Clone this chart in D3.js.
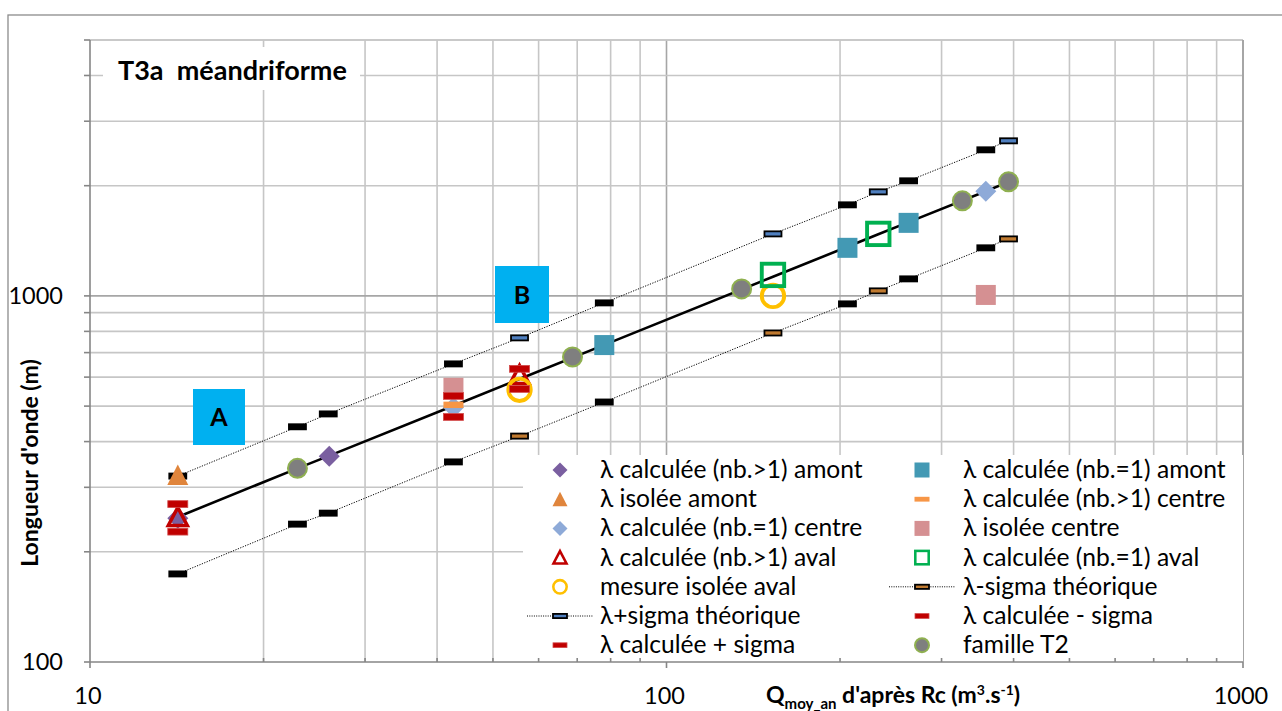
<!DOCTYPE html>
<html>
<head>
<meta charset="utf-8">
<script src="https://cdn.jsdelivr.net/npm/d3@7"></script>
<style>
  html, body { margin: 0; padding: 0; background: #fff; }
  svg { display: block; font-family: Lato, "Open Sans", sans-serif; }
</style>
</head>
<body>
<svg id="chart" width="1282" height="711"></svg>
<script>
// Discharge (m3/s) at which the theoretical curves are evaluated
const qTheo = [14.2, 22.9, 25.9, 42.7, 55.6, 78.0, 153, 206, 233, 263, 358, 392];
// Theoretical wavelength and its +/- sigma envelope (m)
const lambdaTheo       = [249, 338, 365, 501, 593, 735, 1128, 1362, 1473, 1590, 1932, 2049];
const lambdaPlusSigma  = [322, 439, 476, 652, 768, 957, 1477, 1773, 1924, 2062, 2506, 2652];
const lambdaMinusSigma = [174, 238, 255, 352, 414, 513, 792, 951, 1032, 1113, 1353, 1431];
// 't' = theoretical sigma marker, 'k' = plain marker
const sigmaKind = ['k', 'k', 'k', 'k', 't', 'k', 't', 'k', 't', 'k', 'k', 't'];

// Observed / computed wavelengths per reach
const amontMultiQ = [14.2, 26.0],           amontMultiL = [247, 365];
const amontIsoleeQ = [14.2],                amontIsoleeL = [324];
const centreSingleQ = [42.7, 358],          centreSingleL = [496, 1932];
const avalMultiQ = [14.2, 55.6],            avalMultiL = [249, 608];
const avalMesureQ = [55.6, 153],            avalMesureL = [554, 1000];
const amontSingleQ = [78.0, 206, 263],      amontSingleL = [734, 1353, 1583];
const centreMultiQ = [42.7],                centreMultiL = [504];
const centreIsoleeQ = [42.7, 358],          centreIsoleeL = [561, 1006];
const avalSingleQ = [153, 233],             avalSingleL = [1141, 1477];
const calcPlusQ = [14.2, 42.7, 55.6],       calcPlusL = [270, 533, 632];
const calcMinusQ = [14.2, 42.7, 55.6],      calcMinusL = [227, 467, 557];
const familleT2Q = [22.9, 68.7, 135, 326, 392], familleT2L = [338, 681, 1045, 1818, 2049];

// Axis tick labels
const xTickLabels = [10, 100, 1000];
const yTickLabels = [100, 1000];

// Legend entries (left column then right column)
const legendLeft = [
  "λ calculée (nb.>1) amont", "λ isolée amont", "λ calculée (nb.=1) centre",
  "λ calculée (nb.>1) aval", "mesure isolée aval", "λ+sigma théorique", "λ calculée + sigma"
];
const legendRight = [
  "λ calculée (nb.=1) amont", "λ calculée (nb.>1) centre", "λ isolée centre",
  "λ calculée (nb.=1) aval", "λ-sigma théorique", "λ calculée - sigma", "famille T2"
];

const svg = d3.select("#chart");
const P = { left: 90, right: 1243, top: 40, bottom: 662 };

const x = d3.scaleLog().domain([10, 1000]).range([P.left, P.right]);
const y = d3.scaleLog().domain([100, 5000]).range([P.bottom, P.top]);

// outer chart frame
svg.append("rect").attr("x", 8).attr("y", 15).attr("width", 1290).attr("height", 720)
  .attr("fill", "#fff").attr("stroke", "#8c8c8c").attr("stroke-width", 1.3);

// grid
const xGrid = [];
for (let d = 10; d < 1000; d *= 10) for (let k = 1; k <= 9; k++) xGrid.push(d * k);
xGrid.push(1000);
const yGrid = [];
for (let d = 100; d < 10000; d *= 10) for (let k = 1; k <= 9; k++) if (d * k <= 5000) yGrid.push(d * k);
const isMajor = v => Math.abs(Math.log10(v) - Math.round(Math.log10(v))) < 1e-9;

const grid = svg.append("g");
grid.selectAll("line.gx").data(xGrid.filter(v => v > 10 && v < 1000)).join("line")
  .attr("x1", d => x(d)).attr("x2", d => x(d)).attr("y1", P.top).attr("y2", P.bottom)
  .attr("stroke", d => isMajor(d) ? "#a6a6a6" : "#c6c6c6").attr("stroke-width", 1.6);
grid.selectAll("line.gy").data(yGrid.filter(v => v > 100)).join("line")
  .attr("y1", d => y(d)).attr("y2", d => y(d)).attr("x1", P.left).attr("x2", P.right)
  .attr("stroke", d => isMajor(d) ? "#a6a6a6" : "#c6c6c6").attr("stroke-width", 1.6);
// top and right plot edges
grid.append("line").attr("x1", P.left).attr("x2", P.right).attr("y1", P.top).attr("y2", P.top)
  .attr("stroke", "#c6c6c6").attr("stroke-width", 1.6);
grid.append("line").attr("x1", P.right).attr("x2", P.right).attr("y1", P.top).attr("y2", P.bottom)
  .attr("stroke", "#a6a6a6").attr("stroke-width", 2);

// title box
const tg = svg.append("g");
tg.append("rect").attr("x", 103).attr("y", 47).attr("width", 257).attr("height", 43).attr("fill", "#fff");
tg.append("text").attr("x", 118).attr("y", 80).attr("font-size", 27).attr("font-weight", 700)
  .attr("xml:space", "preserve").text("T3a  méandriforme");

// A / B labels
[["A", 193, 389, 52, 56], ["B", 495, 266, 54, 57]].forEach(([t, bx, by, bw, bh]) => {
  svg.append("rect").attr("x", bx).attr("y", by).attr("width", bw).attr("height", bh).attr("fill", "#00b0f0");
  svg.append("text").attr("x", bx + bw / 2).attr("y", by + bh / 2 + 9).attr("text-anchor", "middle")
    .attr("font-size", 25).attr("font-weight", 700).text(t);
});

// marker drawing helpers
function marker(g, type, cx, cy, s) {
  const h = s / 2;
  switch (type) {
    case "diamondPurple":
      return g.append("path").attr("d", `M${cx},${cy - h}L${cx + h},${cy}L${cx},${cy + h}L${cx - h},${cy}Z`).attr("fill", "#7a5fa0");
    case "diamondLight":
      return g.append("path").attr("d", `M${cx},${cy - h}L${cx + h},${cy}L${cx},${cy + h}L${cx - h},${cy}Z`).attr("fill", "#8eaad8");
    case "triOrange":
      return g.append("path").attr("d", `M${cx},${cy - h}L${cx + h},${cy + h * 0.95}L${cx - h},${cy + h * 0.95}Z`).attr("fill", "#e0853c");
    case "triRed": {
      const hh = h - 1.5;
      return g.append("path").attr("d", `M${cx},${cy - hh}L${cx + hh},${cy + hh * 0.9}L${cx - hh},${cy + hh * 0.9}Z`)
        .attr("fill", "none").attr("stroke", "#c00000").attr("stroke-width", s * 0.16).attr("stroke-linejoin", "miter");
    }
    case "circleYellow":
      return g.append("circle").attr("cx", cx).attr("cy", cy).attr("r", h - 1.8).attr("fill", "none")
        .attr("stroke", "#ffc000").attr("stroke-width", s * 0.15);
    case "squareTeal":
      return g.append("rect").attr("x", cx - h).attr("y", cy - h).attr("width", s).attr("height", s).attr("fill", "#4399b4");
    case "dashOrange":
      return g.append("rect").attr("x", cx - h).attr("y", cy - s * 0.16).attr("width", s).attr("height", s * 0.32).attr("fill", "#f79646");
    case "squarePink":
      return g.append("rect").attr("x", cx - h).attr("y", cy - h).attr("width", s).attr("height", s).attr("fill", "#d59092");
    case "squareGreen":
      return g.append("rect").attr("x", cx - h + 1.8).attr("y", cy - h + 1.8).attr("width", s - 3.6).attr("height", s - 3.6)
        .attr("fill", "none").attr("stroke", "#00b050").attr("stroke-width", s * 0.15);
    case "dashRed":
      return g.append("rect").attr("x", cx - h).attr("y", cy - s * 0.17).attr("width", s).attr("height", s * 0.34)
        .attr("fill", "#c00000").attr("stroke", "#d24a4a").attr("stroke-width", 0.8);
    case "circleGray":
      return g.append("circle").attr("cx", cx).attr("cy", cy).attr("r", h - 1).attr("fill", "#7f7f7f")
        .attr("stroke", "#8fb050").attr("stroke-width", 2);
    case "dashBlue":
      return g.append("rect").attr("x", cx - h).attr("y", cy - s * 0.15).attr("width", s).attr("height", s * 0.3)
        .attr("fill", "#4f7fbf").attr("stroke", "#000").attr("stroke-width", 1.8);
    case "dashBrown":
      return g.append("rect").attr("x", cx - h).attr("y", cy - s * 0.15).attr("width", s).attr("height", s * 0.3)
        .attr("fill", "#c07a30").attr("stroke", "#000").attr("stroke-width", 1.8);
    case "dashBlack":
      return g.append("rect").attr("x", cx - h).attr("y", cy - s * 0.15).attr("width", s).attr("height", s * 0.3)
        .attr("fill", "#000").attr("stroke", "#000").attr("stroke-width", 1.8);
  }
}

const plot = svg.append("g");
const line = d3.line().x(d => x(d[0])).y(d => y(d[1]));

// sigma envelopes (dotted)
[[lambdaPlusSigma, "dashBlue"], [lambdaMinusSigma, "dashBrown"]].forEach(([vals, kind]) => {
  plot.append("path").datum(qTheo.map((q, i) => [q, vals[i]])).attr("d", line)
    .attr("fill", "none").attr("stroke", "#000").attr("stroke-width", 1).attr("stroke-dasharray", "1.2,1.4");
  qTheo.forEach((q, i) => marker(plot, sigmaKind[i] === 't' ? kind : "dashBlack", x(q), y(vals[i]), 17));
});

// theoretical wavelength (solid)
plot.append("path").datum(qTheo.map((q, i) => [q, lambdaTheo[i]])).attr("d", line)
  .attr("fill", "none").attr("stroke", "#000").attr("stroke-width", 2.6);

// scatter series, in drawing order
const series = [
  [amontMultiQ, amontMultiL, "diamondPurple", 21],
  [amontIsoleeQ, amontIsoleeL, "triOrange", 21],
  [centreSingleQ, centreSingleL, "diamondLight", 21],
  [avalMultiQ, avalMultiL, "triRed", 22],
  [avalMesureQ, avalMesureL, "circleYellow", 26],
  [amontSingleQ, amontSingleL, "squareTeal", 20],
  [centreMultiQ, centreMultiL, "dashOrange", 20],
  [centreIsoleeQ, centreIsoleeL, "squarePink", 20],
  [avalSingleQ, avalSingleL, "squareGreen", 26],
  [calcPlusQ, calcPlusL, "dashRed", 20],
  [calcMinusQ, calcMinusL, "dashRed", 20],
  [familleT2Q, familleT2L, "circleGray", 21]
];
series.forEach(([qs, ls, kind, size]) => qs.forEach((q, i) => marker(plot, kind, x(q), y(ls[i]), size)));

// legend
const lg = svg.append("g");
lg.append("rect").attr("x", 523).attr("y", 455).attr("width", P.right - 523).attr("height", P.bottom - 455).attr("fill", "#fff");
const leftKinds = ["diamondPurple", "triOrange", "diamondLight", "triRed", "circleYellow", "dashBlue", "dashRed"];
const rightKinds = ["squareTeal", "dashOrange", "squarePink", "squareGreen", "dashBrown", "dashRed", "circleGray"];
const legendSizes = { diamondPurple: 15, triOrange: 15, diamondLight: 15, triRed: 16, circleYellow: 17, dashBlue: 14,
  dashRed: 14, squareTeal: 15, dashOrange: 15, squarePink: 15, squareGreen: 17, dashBrown: 14, circleGray: 16 };
[[legendLeft, leftKinds, 560, 600], [legendRight, rightKinds, 922, 963]].forEach(([labels, kinds, mx, tx]) => {
  labels.forEach((lab, i) => {
    const cy = 470 + i * 29.2;
    if (kinds[i] === "dashBlue" || kinds[i] === "dashBrown") {
      lg.append("line").attr("x1", mx - 33).attr("x2", mx + 33).attr("y1", cy).attr("y2", cy)
        .attr("stroke", "#000").attr("stroke-width", 1).attr("stroke-dasharray", "1,1.3");
    }
    marker(lg, kinds[i], mx, cy, legendSizes[kinds[i]]);
    lg.append("text").attr("x", tx).attr("y", cy + 8).attr("font-size", 24.6).text(lab);
  });
});

// axes
const ax = svg.append("g").attr("stroke", "#868686").attr("stroke-width", 1.6);
ax.append("line").attr("x1", P.left).attr("x2", P.left).attr("y1", P.top).attr("y2", P.bottom);
ax.append("line").attr("x1", P.left).attr("x2", P.right).attr("y1", P.bottom).attr("y2", P.bottom);
xGrid.forEach(v => {
  if (isMajor(v)) ax.append("line").attr("x1", x(v)).attr("x2", x(v)).attr("y1", P.bottom).attr("y2", P.bottom + 6);
  else ax.append("line").attr("x1", x(v)).attr("x2", x(v)).attr("y1", P.bottom).attr("y2", P.bottom - 4);
});
yGrid.forEach(v => ax.append("line").attr("x1", P.left - 6).attr("x2", P.left).attr("y1", y(v)).attr("y2", y(v)));

svg.selectAll("text.xt").data(xTickLabels).join("text").attr("class", "xt")
  .attr("x", d => x(d) - 2).attr("y", 704).attr("text-anchor", "middle").attr("font-size", 23.5).text(d => d);
svg.selectAll("text.yt").data(yTickLabels).join("text").attr("class", "yt")
  .attr("x", 63).attr("y", d => y(d) + 8).attr("text-anchor", "end").attr("font-size", 23.5).text(d => d);

// axis titles
svg.append("text").attr("transform", "translate(38,463) rotate(-90)").attr("text-anchor", "middle")
  .attr("font-size", 23).attr("font-weight", 700).text("Longueur d'onde (m)");

const xt = svg.append("text").attr("x", 766).attr("y", 703).attr("font-size", 23).attr("font-weight", 700);
xt.append("tspan").text("Q");
xt.append("tspan").attr("font-size", 15).attr("dy", 6).text("moy_an");
xt.append("tspan").attr("dy", -6).text(" d'après Rc (m");
xt.append("tspan").attr("font-size", 14).attr("dy", -8).text("3");
xt.append("tspan").attr("dy", 8).text(".s");
xt.append("tspan").attr("font-size", 14).attr("dy", -8).text("-1");
xt.append("tspan").attr("dy", 8).text(")");
</script>
</body>
</html>
